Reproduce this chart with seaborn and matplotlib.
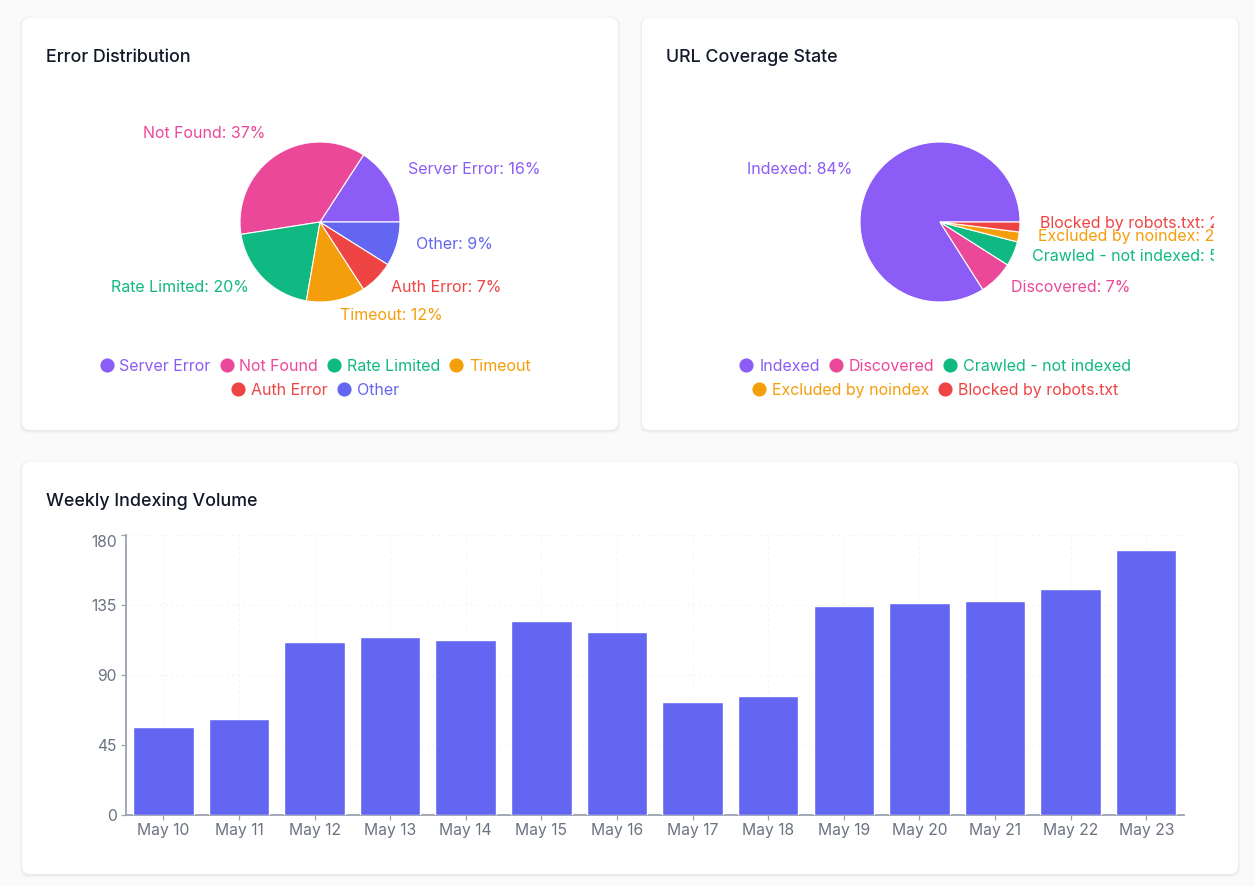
import matplotlib
matplotlib.use("Agg")
import matplotlib.pyplot as plt
import seaborn as sns
import pandas as pd
from matplotlib.lines import Line2D
from matplotlib.patches import FancyBboxPatch
from matplotlib.transforms import Bbox, offset_copy

W, H = 1255, 886

error_names = ["Server Error", "Not Found", "Rate Limited", "Timeout", "Auth Error", "Other"]
error_values = [16, 37, 20, 12, 7, 9]
error_colors = ["#8b5cf6", "#ec4899", "#10b981", "#f59e0b", "#ef4444", "#6366f1"]

coverage_names = ["Indexed", "Discovered", "Crawled - not indexed", "Excluded by noindex", "Blocked by robots.txt"]
coverage_values = [84, 7, 5, 2, 2]
coverage_colors = ["#8b5cf6", "#ec4899", "#10b981", "#f59e0b", "#ef4444"]

weeks = ["May 10", "May 11", "May 12", "May 13", "May 14", "May 15", "May 16",
         "May 17", "May 18", "May 19", "May 20", "May 21", "May 22", "May 23"]
volume = [56.5, 61.5, 111.5, 114.5, 112.5, 124.5, 117.5, 72.5, 76.5, 134.5, 136.5, 137.5, 145.5, 170.5]
y_ticks = [0, 45, 90, 135, 180]

sns.set_theme(style="white")
plt.rcParams["font.family"] = ["Inter", "DejaVu Sans"]

fig = plt.figure(figsize=(W / 100, H / 100), dpi=100, facecolor="#fafafa")

# card layer in pixel coordinates
bg = fig.add_axes([0, 0, 1, 1], zorder=-1)
bg.set_xlim(0, W)
bg.set_ylim(H, 0)
bg.axis("off")


def card(x0, y0, x1, y1, title):
    for grow, alpha in [(2.5, 0.012), (1.5, 0.02), (0.7, 0.03)]:
        bg.add_patch(FancyBboxPatch((x0 - grow + 8, y0 + 1 - grow + 8),
                                    x1 - x0 + 2 * grow - 16, y1 - y0 + 2 * grow - 16,
                                    boxstyle="round,pad=8,rounding_size=8",
                                    fc="#000000", ec="none", alpha=alpha))
    bg.add_patch(FancyBboxPatch((x0 + 8, y0 + 8), x1 - x0 - 16, y1 - y0 - 16,
                                boxstyle="round,pad=8,rounding_size=8", fc="white", ec="none"))
    bg.text(x0 + 24, y0 + 39, title, fontsize=12.85, fontweight=500, color="#111827",
            ha="left", va="center")


card(22, 18, 618, 430, "Error Distribution")
card(642, 18, 1238, 430, "URL Coverage State")
card(22, 462, 1238, 874, "Weekly Indexing Volume")


def pie_panel(cx, cy, names, values, colors, clip_right, rows, legend_cx):
    side = 200
    ax = fig.add_axes([(cx - side / 2) / W, 1 - (cy + side / 2) / H, side / W, side / H])
    ax.patch.set_alpha(0)
    labels = [f"{n}: {v}%" for n, v in zip(names, values)]
    wedges, texts = ax.pie(values, labels=labels, colors=colors, startangle=0,
                           labeldistance=1.25, radius=1,
                           wedgeprops=dict(edgecolor="white", linewidth=0.8),
                           textprops=dict(fontsize=11.5))
    ax.set_xlim(-1.25, 1.25)
    ax.set_ylim(-1.25, 1.25)
    clip = Bbox([[0, 0], [clip_right, H]])
    for t, c in zip(texts, colors):
        t.set_color(c)
        t.set_transform(offset_copy(t.get_transform(), fig=fig, y=3.4, units="points"))
        t.set_clip_box(clip)
        t.set_clip_on(True)
    start = 0
    for row_y, count in rows:
        idx = range(start, start + count)
        handles = [Line2D([], [], color=colors[i], marker="o", markersize=10.2,
                          markeredgewidth=0, linestyle="none", label=names[i]) for i in idx]
        fig.legend(handles=handles, loc="center", ncol=count, frameon=False,
                   bbox_to_anchor=(legend_cx / W, 1 - row_y / H), bbox_transform=fig.transFigure,
                   fontsize=11.5, labelcolor="linecolor", numpoints=1,
                   handlelength=0.9, handletextpad=0.35, columnspacing=0.55,
                   borderpad=0, borderaxespad=0, handleheight=0.7)
        start += count


pie_panel(320, 222, error_names, error_values, error_colors, 594, [(366, 4), (390.5, 2)], 315)
pie_panel(940, 222, coverage_names, coverage_values, coverage_colors, 1214, [(366, 3), (390.5, 2)], 935)

# bar chart
x0, x1, y0, y1 = 125.5, 1184, 535, 815
ax = fig.add_axes([x0 / W, 1 - y1 / H, (x1 - x0) / W, (y1 - y0) / H])
ax.patch.set_alpha(0)
frame = pd.DataFrame({"week": weeks, "volume": volume})
sns.barplot(data=frame, x="week", y="volume", color="#6366f1", saturation=1, width=0.8,
            ax=ax, zorder=3)
ax.set_xlim(-0.5, len(weeks) - 0.5)
ax.set_ylim(0, 180)
ax.set_yticks(y_ticks)
ax.set_xlabel("")
ax.set_ylabel("")
ax.grid(True, color="#f3f4f6", linestyle=(0, (2, 3)), linewidth=0.8)
ax.set_axisbelow(True)
for s in ["top", "right"]:
    ax.spines[s].set_visible(False)
for s in ["left", "bottom"]:
    ax.spines[s].set_color("#9ca3af")
    ax.spines[s].set_linewidth(1.3)
ax.tick_params(axis="both", length=3.6, width=0.9, color="#9ca3af", labelcolor="#6b7280",
               labelsize=11.3, pad=2.5, left=True, bottom=True)
ax.get_yticklabels()[-1].set_va("top")

fig.savefig("out.png", dpi=100, facecolor=fig.get_facecolor())
